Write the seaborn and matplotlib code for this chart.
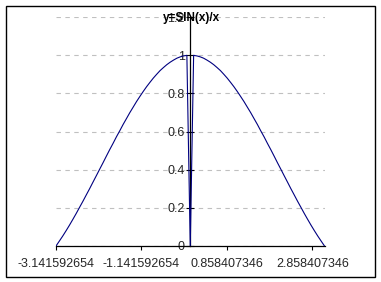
import matplotlib
matplotlib.use("Agg")
import matplotlib.pyplot as plt
import seaborn as sns
import pandas as pd
from matplotlib.patches import Rectangle

x_vals = [-3.142, -3.063, -2.985, -2.906, -2.827, -2.749, -2.670, -2.592, -2.513, -2.435,
          -2.356, -2.278, -2.199, -2.121, -2.042, -1.963, -1.885, -1.806, -1.728, -1.649,
          -1.571, -1.492, -1.414, -1.335, -1.257, -1.178, -1.100, -1.021, -0.942, -0.864,
          -0.785, -0.707, -0.628, -0.550, -0.471, -0.393, -0.314, -0.236, -0.157, -0.079,
          0.0,
          0.079, 0.157, 0.236, 0.314, 0.393, 0.471, 0.550, 0.628, 0.707, 0.785,
          0.864, 0.942, 1.021, 1.100, 1.178, 1.257, 1.335, 1.414, 1.492, 1.571,
          1.649, 1.728, 1.806, 1.885, 1.963, 2.042, 2.121, 2.199, 2.278, 2.356,
          2.435, 2.513, 2.592, 2.670, 2.749, 2.827, 2.906, 2.985, 3.063, 3.142]
y_vals = [0.000, 0.026, 0.052, 0.080, 0.109, 0.139, 0.170, 0.202, 0.234, 0.267,
          0.300, 0.334, 0.368, 0.402, 0.436, 0.471, 0.505, 0.538, 0.572, 0.604,
          0.637, 0.668, 0.699, 0.728, 0.757, 0.784, 0.810, 0.835, 0.858, 0.880,
          0.900, 0.919, 0.935, 0.950, 0.963, 0.974, 0.984, 0.991, 0.996, 0.999,
          0.000,
          0.999, 0.996, 0.991, 0.984, 0.974, 0.963, 0.950, 0.935, 0.919, 0.900,
          0.880, 0.858, 0.835, 0.810, 0.784, 0.757, 0.728, 0.699, 0.668, 0.637,
          0.604, 0.572, 0.538, 0.505, 0.471, 0.436, 0.402, 0.368, 0.334, 0.300,
          0.267, 0.234, 0.202, 0.170, 0.139, 0.109, 0.080, 0.052, 0.026, 0.000]
x_tick_labels = ["-3.141592654", "-1.141592654", "0.858407346", "2.858407346"]
y_ticks = [0, 0.2, 0.4, 0.6, 0.8, 1, 1.2]
y_tick_labels = ["0", "0.2", "0.4", "0.6", "0.8", "1", "1.2"]
title = "y=SIN(x)/x"

sns.set_style("white")
plt.rcParams["font.family"] = ["Liberation Sans", "DejaVu Sans"]

W, H = 381, 282
fig = plt.figure(figsize=(W / 100, H / 100), dpi=100)
ax = fig.add_axes([56 / W, 1 - 246 / H, (324.5 - 56) / W, (246 - 17) / H])

df = pd.DataFrame({"x": x_vals, "y": y_vals})
sns.lineplot(data=df, x="x", y="y", ax=ax, color="#000080", linewidth=0.8,
             sort=False, estimator=None, zorder=3)

ax.set_xlim(x_vals[0], x_vals[-1])
ax.set_ylim(0, 1.2)
ax.set_xlabel("")
ax.set_ylabel("")

xt = [float(s) for s in x_tick_labels]
ax.set_xticks(xt)
ax.set_xticklabels(x_tick_labels)
ax.set_yticks(y_ticks)
ax.set_yticklabels(y_tick_labels)

ax.yaxis.grid(True, color="#c0c0c0", linestyle=(0, (4, 4)), linewidth=0.8)
ax.xaxis.grid(False)
ax.set_axisbelow(True)

for s in ["top", "right"]:
    ax.spines[s].set_visible(False)
ax.spines["left"].set_position(("data", 0))
ax.spines["left"].set_color("black")
ax.spines["left"].set_linewidth(0.9)
ax.spines["left"].set_zorder(2)
ax.spines["bottom"].set_color("black")
ax.spines["bottom"].set_linewidth(0.9)

ax.tick_params(axis="x", direction="out", length=3, width=0.8, color="black",
               labelsize=9, pad=5.5, bottom=True)
ax.tick_params(axis="y", direction="inout", length=6, width=0.8, color="black",
               labelsize=9, pad=1, left=True)

fig.text(191 / W, 1 - 17.5 / H, title, ha="center", va="center",
         fontsize=8.5, fontweight="bold", color="black", zorder=10)

fig.patches.append(Rectangle((5.5 / W, 1 - 277 / H), 369.5 / W, 271.5 / H,
                             transform=fig.transFigure, fill=False,
                             edgecolor="black", linewidth=1.0))

fig.savefig("out.png", dpi=100)
